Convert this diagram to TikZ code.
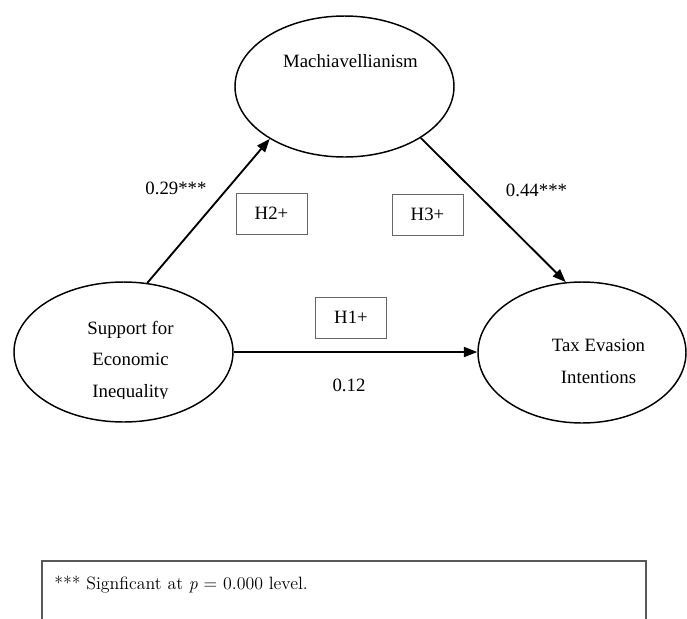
\documentclass[tikz,border=0pt]{standalone}
\usepackage{fontspec}
\newfontfamily\diagfont{Liberation Serif}
\usetikzlibrary{shapes.geometric,arrows.meta}
\begin{document}
\begin{tikzpicture}[x=0.75pt,y=-0.75pt,
  latent/.style={draw,ellipse,line width=1.1pt,inner sep=0pt},
  hypo/.style={draw=black!60,line width=0.75pt,minimum width=53.25pt,minimum height=30.75pt,inner sep=0pt,font=\diagfont\fontsize{14.1}{16}\selectfont},
  relpath/.style={line width=1.4pt,-{Triangle[length=10pt,width=7.5pt]}},
  lbl/.style={font=\diagfont\fontsize{14.1}{16}\selectfont,inner sep=0pt},
  note/.style={font=\fontsize{13.4}{16}\selectfont,inner sep=0pt},
  notebox/.style={draw=black!65,line width=1pt}]
\useasboundingbox (0,0) rectangle (687,619);

% latent variables
\node[latent,minimum width=164.25pt,minimum height=105.75pt] (mach) at (344.5,86.5) {};
\node[latent,minimum width=164.25pt,minimum height=105pt] (sei) at (123.5,352) {};
\node[latent,minimum width=156pt,minimum height=105.75pt] (tei) at (582,352.5) {};

% texts inside
\node[lbl] (machtext) at (350.5,61) {Machiavellianism};
\node[lbl,anchor=base] (sei1) at (130.5,334) {Support for};
\node[lbl,anchor=base] (sei2) at (130.5,365.5) {Economic};
\begin{scope}
\clip (0,0) rectangle (687,398);
\node[lbl,anchor=base] (sei3) at (130.5,397) {Inequality};
\end{scope}
\node[lbl,anchor=base] (tei1) at (598.5,351) {Tax Evasion};
\node[lbl,anchor=base] (tei2) at (598.5,383.5) {Intentions};

% paths
\draw[relpath] (sei.71.4) -- (mach.215.3);
\draw[relpath] (mach.326.7) -- (tei.103.2);
\draw[relpath] (sei.east) -- (sei.east -| tei.west);

% hypothesis boxes
\node[hypo] (h2) at (271.5,213.5) {H2+};
\node[hypo] (h3) at (427.5,214.5) {H3+};
\node[hypo] (h1) at (351,317.5) {H1+};

% coefficients
\node[lbl] (c29) at (176,188.5) {0.29***};
\node[lbl] (c44) at (536.5,190) {0.44***};
\node[lbl] (c12) at (349,385.5) {0.12};

% footnote
\coordinate (nbl) at (42,619);
\coordinate (ntl) at (42,561);
\coordinate (ntr) at (646,561);
\coordinate (nbr) at (646,619);
\draw[notebox] (nbl) -- (ntl) -- (ntr) -- (nbr);
\node[note,anchor=base east] (notetext) at (308,589) {*** Signficant at \textit{p} = 0.000 level.};
\end{tikzpicture}
\end{document}
